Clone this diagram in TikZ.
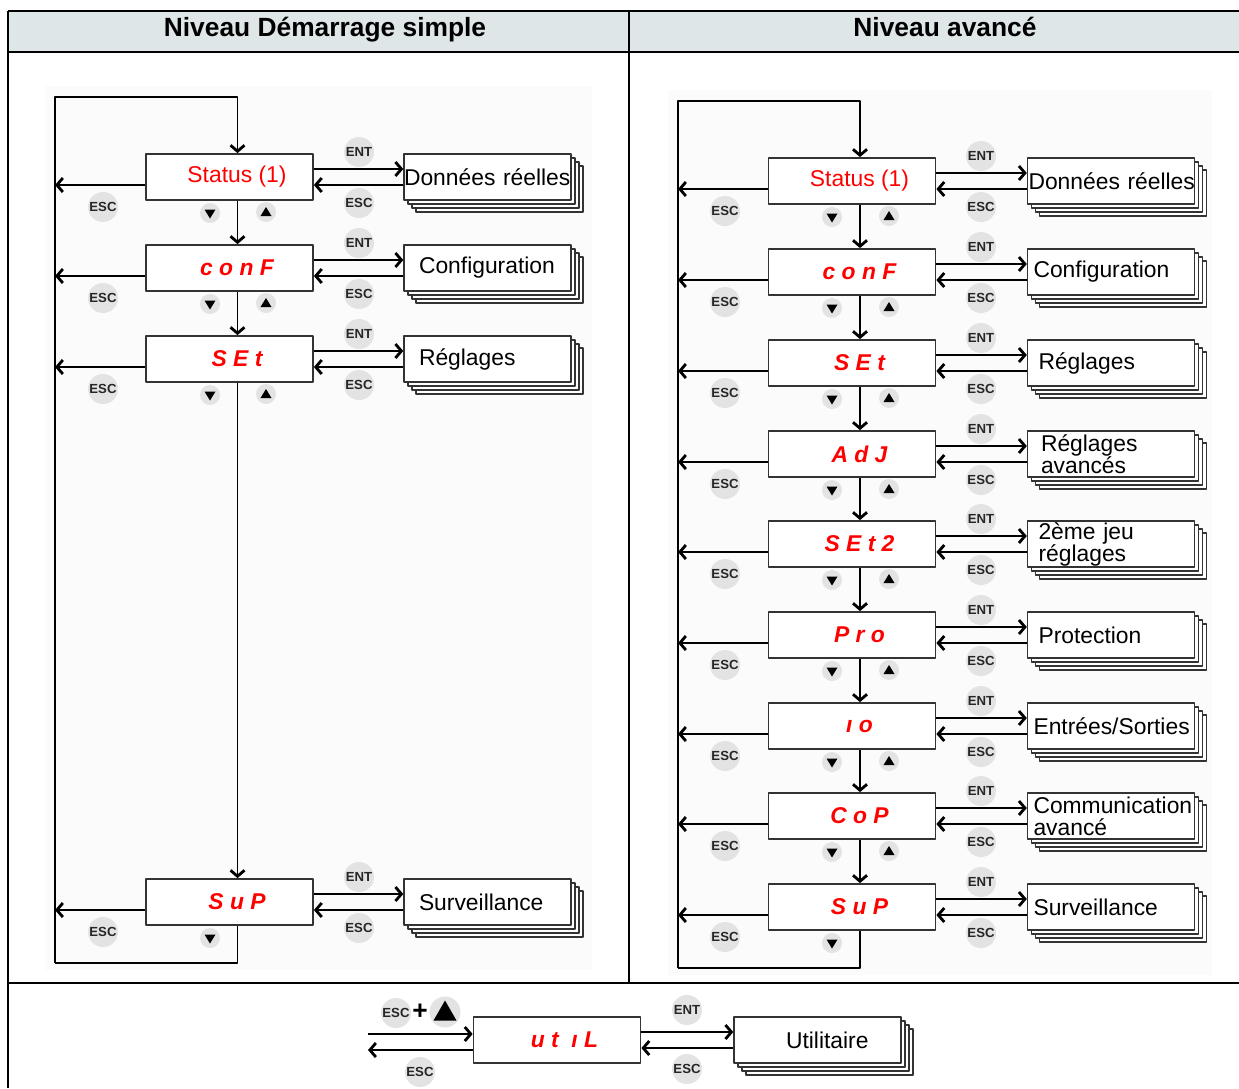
\documentclass[tikz,border=0pt]{standalone}
\usepackage{fontspec}
\setmainfont{Liberation Sans}
\usetikzlibrary{arrows.meta,shadows}
\definecolor{headgray}{HTML}{DFE6E8}
\definecolor{keygray}{HTML}{E3E3E3}
\definecolor{panelgray}{HTML}{FBFBFB}

\begin{document}
\begin{tikzpicture}[x=0.2mm, y=-0.2mm, line join=round,
    >={Straight Barb[length=1.2mm,width=2.8mm,line width=1.6pt]},
    link/.style={->, line width=0.9pt},
    wire/.style={line width=0.9pt},
    disp/.style={draw=black!80, line width=1pt, fill=white, minimum width=3.34cm,
      minimum height=0.92cm, inner sep=0pt, text=red,
      font=\fontsize{13}{13}\selectfont\bfseries\itshape,
      execute at begin node={\hspace*{0.3cm}}},
    pile/.style={draw=black!80, line width=0.8pt, fill=white, minimum width=3.34cm,
      minimum height=0.92cm, text width=3.1cm, inner xsep=0.12cm, inner ysep=0pt,
      align=left, font=\fontsize{13}{12.5}\selectfont,
      general shadow={shadow xshift=0.24cm, shadow yshift=-0.24cm, fill=white, draw=black!80},
      general shadow={shadow xshift=0.16cm, shadow yshift=-0.16cm, fill=white, draw=black!80},
      general shadow={shadow xshift=0.08cm, shadow yshift=-0.08cm, fill=white, draw=black!80}},
    btn/.style={circle, fill=keygray, minimum size=0.6cm, inner sep=0pt, text=black!85,
      font=\fontsize{7.5}{7.5}\selectfont\bfseries},
    keydown/.style={circle, fill=keygray, minimum size=0.4cm, inner sep=0pt,
      path picture={\fill[black] ([shift={(-0.11cm,0.07cm)}]path picture bounding box.center)
        -- ++(0.22cm,0cm) -- ++(-0.11cm,-0.18cm) -- cycle;}},
    keyup/.style={circle, fill=keygray, minimum size=0.4cm, inner sep=0pt,
      path picture={\fill[black] ([shift={(-0.11cm,-0.08cm)}]path picture bounding box.center)
        -- ++(0.22cm,0cm) -- ++(-0.11cm,0.18cm) -- cycle;}},
    bigup/.style={circle, fill=keygray, minimum size=0.62cm, inner sep=0pt,
      path picture={\fill[black] ([shift={(-0.23cm,-0.17cm)}]path picture bounding box.center)
        -- ++(0.46cm,0cm) -- ++(-0.23cm,0.4cm) -- cycle;}},
    headtext/.style={anchor=base, font=\fontsize{15}{15}\selectfont\bfseries}
  ]
  \useasboundingbox (0,0) rectangle (1239,1088);
  % --- table -----------------------------------------------------
  \fill[headgray] (8,11) rectangle (1239,52);
  \fill[panelgray] (45,86) rectangle (592,970);
  \fill[panelgray] (668,90) rectangle (1212,975);
  \draw[line width=1pt] (8,11) -- (1239,11) (8,52) -- (1239,52) (8,983) -- (1239,983)
    (8,11) -- (8,1088) (629,11) -- (629,983);
  \node[headtext] (hleft) at (325,36) {Niveau Démarrage simple};
  \node[headtext] (hright) at (945,36) {Niveau avancé};
  % --- simple level ----------------------------------------------
  \foreach \i/\y/\code/\dat in {
      1/177/{\normalfont Status (1)}/{\hspace*{-0.3cm}\mbox{Données réelles}},
      2/268/{c o n F}/{Configuration},
      3/359/{S E t}/{Réglages},
      4/902/{S u P}/{Surveillance}} {
    \node[disp] (l\i) at (229.5,\y) {\code};
    \node[pile, text width=2.74cm, inner xsep=0.3cm] (ld\i) at (487.5,\y) {\dat};
    \node[btn] (lent\i) at (359,\y-25) {ENT};
    \node[btn] (lesc\i) at (359,\y+26) {ESC};
    \node[btn] (lback\i) at (103,\y+30) {ESC};
    \node[keydown] (ldn\i) at (210,\y+36) {};
    \ifnum\i<4 \node[keyup] (lup\i) at (266,\y+35) {}; \fi
    \draw[link] ([yshift=0.16cm]l\i.east) -- ([yshift=0.16cm]ld\i.west);
    \draw[link] ([yshift=-0.16cm]ld\i.west) -- ([yshift=-0.16cm]l\i.east);
  }
  \coordinate (ltop) at (55,97);
  \coordinate (lbot) at (55,963);
  \foreach \i in {1,...,4}
    \draw[link] ([yshift=-0.16cm]l\i.west) -- ([yshift=-0.16cm]l\i.west -| ltop);
  \foreach \i [count=\j from 2] in {1,...,3}
    \draw[link] ([xshift=0.16cm]l\i.south) -- ([xshift=0.16cm]l\j.north);
  \draw[link] (lbot) -- (ltop) -| ([xshift=0.16cm]l1.north);
  \draw[wire] ([xshift=0.16cm]l4.south) |- (lbot);
  % --- advanced level --------------------------------------------
  \foreach \i/\y/\code/\dat in {
      1/181/{\normalfont Status (1)}/{\hspace*{-0.1cm}\mbox{Données réelles}},
      2/272/{c o n F}/{Configuration},
      3/363/{S E t}/{\hspace*{0.1cm}Réglages},
      4/454/{A d J}/{\hspace*{0.15cm}Réglages\\\hspace*{0.15cm}avancés},
      5/544/{S E t 2}/{\hspace*{0.1cm}2ème jeu\\\hspace*{0.1cm}réglages},
      6/635/{P r o}/{\hspace*{0.1cm}Protection},
      7/726/{ı o}/{Entrées/Sorties},
      8/816/{C o P}/{Communication\\avancé},
      9/907/{S u P}/{Surveillance}} {
    \node[disp] (a\i) at (852,\y) {\code};
    \node[pile] (ad\i) at (1111,\y) {\dat};
    \node[btn] (aent\i) at (981,\y-25) {ENT};
    \node[btn] (aesc\i) at (981,\y+26) {ESC};
    \node[btn] (aback\i) at (725,\y+30) {ESC};
    \node[keydown] (adn\i) at (832,\y+36) {};
    \ifnum\i<9 \node[keyup] (aup\i) at (889,\y+35) {}; \fi
    \draw[link] ([yshift=0.16cm]a\i.east) -- ([yshift=0.16cm]ad\i.west);
    \draw[link] ([yshift=-0.16cm]ad\i.west) -- ([yshift=-0.16cm]a\i.east);
  }
  \coordinate (atop) at (678,101);
  \coordinate (abot) at (678,968);
  \foreach \i in {1,...,9}
    \draw[link] ([yshift=-0.16cm]a\i.west) -- ([yshift=-0.16cm]a\i.west -| atop);
  \foreach \i [count=\j from 2] in {1,...,8}
    \draw[link] ([xshift=0.16cm]a\i.south) -- ([xshift=0.16cm]a\j.north);
  \draw[link] (abot) -- (atop) -| ([xshift=0.16cm]a1.north);
  \draw[wire] ([xshift=0.16cm]a9.south) |- (abot);
  % --- utilities -------------------------------------------------
  \node[disp] (u) at (557,1040) {u t\ \ ı L};
  \node[pile] (ud) at (817.5,1040) {\hspace*{0.92cm}Utilitaire};
  \node[btn] (uesc) at (396,1013) {ESC};
  \node[font=\fontsize{15}{15}\selectfont\bfseries] (uplus) at (420,1012) {+};
  \node[bigup] (ubig) at (445,1012) {};
  \node[btn] (uback) at (420,1072) {ESC};
  \node[btn] (uent) at (687,1010) {ENT};
  \node[btn] (uesc2) at (687,1069) {ESC};
  \coordinate (uin) at (368,1034);
  \coordinate (uout) at (368,1050);
  \draw[link] (uin) -- (uin -| u.west);
  \draw[link] (u.west |- uout) -- (uout);
  \draw[link] ([yshift=0.16cm]u.east) -- ([yshift=0.16cm]ud.west);
  \draw[link] ([yshift=-0.16cm]ud.west) -- ([yshift=-0.16cm]u.east);
\end{tikzpicture}
\end{document}
